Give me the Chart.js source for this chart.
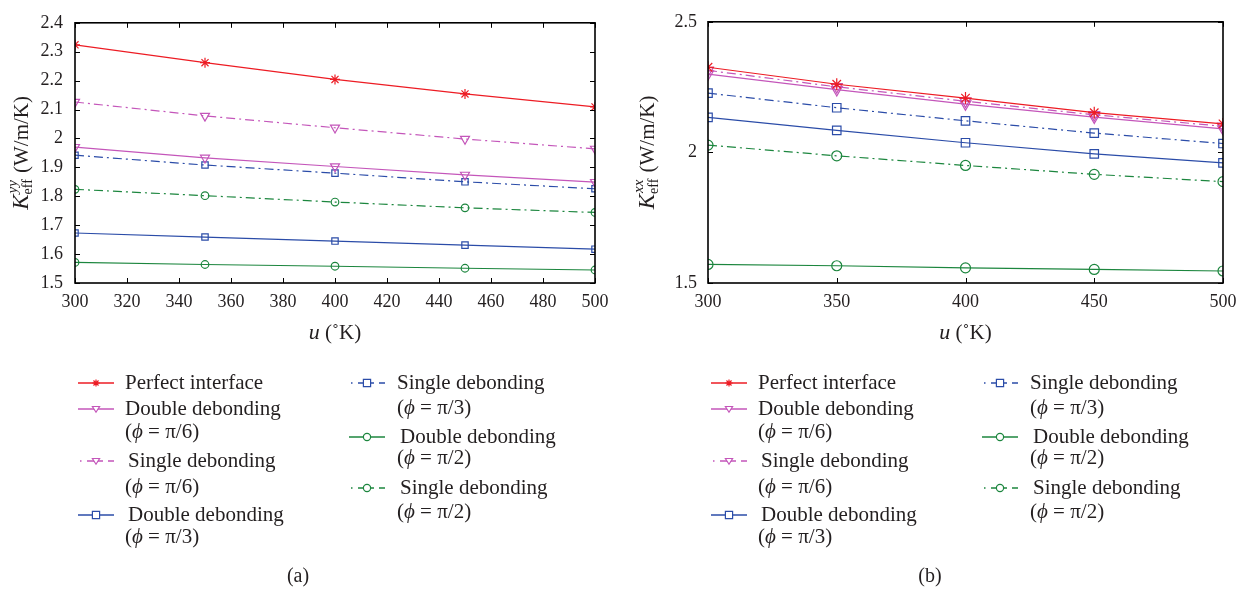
<!DOCTYPE html>
<html>
<head>
<meta charset="utf-8">
<script src="https://cdn.jsdelivr.net/npm/chart.js@4.4.0/dist/chart.umd.min.js"></script>
<style>
  body { margin: 0; background: #fff; }
  .panel { position: absolute; top: 0; }
</style>
</head>
<body>
<canvas id="chartA" class="panel" style="left:0" width="625" height="591"></canvas>
<canvas id="chartB" class="panel" style="left:625px" width="626" height="591"></canvas>
<script>
// temperatures (K)
const temps = [300, 350, 400, 450, 500];

// (a) K_eff^yy
const yyPerfect  = [2.324, 2.262, 2.204, 2.154, 2.109];
const yyDouble6  = [1.970, 1.933, 1.903, 1.874, 1.849];
const yySingle6  = [2.126, 2.078, 2.037, 1.998, 1.964];
const yyDouble3  = [1.673, 1.659, 1.645, 1.631, 1.617];
const yySingle3  = [1.942, 1.908, 1.880, 1.850, 1.826];
const yyDouble2  = [1.571, 1.564, 1.558, 1.551, 1.545];
const yySingle2  = [1.824, 1.802, 1.780, 1.760, 1.744];

// (b) K_eff^xx
const xxPerfect  = [2.326, 2.261, 2.208, 2.152, 2.109];
const xxDouble6  = [2.300, 2.240, 2.185, 2.135, 2.090];
const xxSingle6  = [2.314, 2.251, 2.196, 2.144, 2.100];
const xxDouble3  = [2.134, 2.084, 2.037, 1.994, 1.960];
const xxSingle3  = [2.227, 2.171, 2.121, 2.074, 2.034];
const xxDouble2  = [1.571, 1.566, 1.558, 1.552, 1.546];
const xxSingle2  = [2.028, 1.987, 1.950, 1.916, 1.888];

const seriesNames = [
  ['Perfect interface'],
  ['Double debonding', '(\u03d5 = \u03c0/6)'],
  ['Single debonding', '(\u03d5 = \u03c0/6)'],
  ['Double debonding', '(\u03d5 = \u03c0/3)'],
  ['Single debonding', '(\u03d5 = \u03c0/3)'],
  ['Double debonding', '(\u03d5 = \u03c0/2)'],
  ['Single debonding', '(\u03d5 = \u03c0/2)']
];

const RED = 'rgb(237,28,36)';
const PINK = 'rgb(196,86,186)';
const BLUE = 'rgb(43,76,168)';
const GREEN = 'rgb(28,134,62)';
const DASHDOT = [9, 4, 2, 4];
const FONT = '"Liberation Serif", "DejaVu Serif", serif';
const INK = '#231f20';

const styles = [
  { color: RED,   dash: [],      shape: 'star' },
  { color: PINK,  dash: [],      shape: 'triangle' },
  { color: PINK,  dash: DASHDOT, shape: 'triangle' },
  { color: BLUE,  dash: [],      shape: 'rect' },
  { color: BLUE,  dash: DASHDOT, shape: 'rect' },
  { color: GREEN, dash: [],      shape: 'circle' },
  { color: GREEN, dash: DASHDOT, shape: 'circle' }
];

// legend placement: column, first-line y, second-line y, text x offset
const legendRows = [
  { col: 0, y: 383, y2: 0,   dx: 0 },
  { col: 0, y: 409, y2: 432, dx: 0 },
  { col: 0, y: 461, y2: 487, dx: 3 },
  { col: 0, y: 515, y2: 537, dx: 3 },
  { col: 1, y: 383, y2: 408, dx: 0 },
  { col: 1, y: 437, y2: 458, dx: 3 },
  { col: 1, y: 488, y2: 512, dx: 3 }
];

function drawMarker(ctx, shape, x, y, r, color) {
  ctx.save();
  ctx.strokeStyle = color;
  ctx.fillStyle = '#fff';
  ctx.lineWidth = 1.2;
  ctx.setLineDash([]);
  ctx.beginPath();
  if (shape === 'star') {
    for (let i = 0; i < 4; i++) {
      const a = i * Math.PI / 4;
      ctx.moveTo(x - r * Math.cos(a), y - r * Math.sin(a));
      ctx.lineTo(x + r * Math.cos(a), y + r * Math.sin(a));
    }
    ctx.stroke();
  } else if (shape === 'triangle') {
    ctx.moveTo(x - r, y - r * 0.7);
    ctx.lineTo(x + r, y - r * 0.7);
    ctx.lineTo(x, y + r * 0.9);
    ctx.closePath();
    ctx.fill(); ctx.stroke();
  } else if (shape === 'rect') {
    ctx.rect(x - r, y - r, 2 * r, 2 * r);
    ctx.fill(); ctx.stroke();
  } else {
    ctx.arc(x, y, r, 0, Math.PI * 2);
    ctx.fill(); ctx.stroke();
  }
  ctx.restore();
}

// draws a legend string where "ϕ" is set in italics
function fillMixed(ctx, text, x, y, size) {
  const parts = text.split(/(\u03d5)/);
  parts.forEach(p => {
    if (!p) return;
    ctx.font = (p === '\u03d5' ? 'italic ' : '') + size + 'px ' + FONT;
    ctx.fillText(p, x, y);
    x += ctx.measureText(p).width;
  });
}

const framePlugin = {
  id: 'frame',
  afterDraw(chart, args, opts) {
    const ctx = chart.ctx;
    const ca = chart.chartArea;
    const xs = chart.scales.x, ys = chart.scales.y;
    ctx.save();
    // inward ticks
    ctx.strokeStyle = '#000';
    ctx.lineWidth = 1;
    ctx.beginPath();
    xs.ticks.forEach(t => {
      const px = Math.round(xs.getPixelForValue(t.value)) + 0.5;
      ctx.moveTo(px, ca.bottom); ctx.lineTo(px, ca.bottom - 5);
      ctx.moveTo(px, ca.top); ctx.lineTo(px, ca.top + 5);
    });
    ys.ticks.forEach(t => {
      const py = Math.round(ys.getPixelForValue(t.value)) + 0.5;
      ctx.moveTo(ca.left, py); ctx.lineTo(ca.left + 5, py);
      ctx.moveTo(ca.right, py); ctx.lineTo(ca.right - 5, py);
    });
    ctx.stroke();
    // box
    ctx.lineWidth = 1.6;
    ctx.strokeRect(ca.left, ca.top, ca.right - ca.left, ca.bottom - ca.top);

    // y title
    ctx.fillStyle = INK;
    ctx.textBaseline = 'alphabetic';
    const italic = 'italic 23px ' + FONT;
    const big = '21px ' + FONT;
    const sub = '14px ' + FONT;
    const sup = 'italic 15px ' + FONT;
    ctx.font = italic; const wK = ctx.measureText('K').width;
    ctx.font = sub; const wSub = ctx.measureText('eff').width;
    ctx.font = sup; const wSup = ctx.measureText(opts.sup).width;
    ctx.font = big; const wRest = ctx.measureText(' (W/m/K)').width;
    const wIdx = Math.max(wSub, wSup) + 1;
    const total = wK + wIdx + wRest;
    ctx.translate(opts.titleX, (ca.top + ca.bottom) / 2);
    ctx.rotate(-Math.PI / 2);
    let x = -total / 2;
    const base = 8;
    ctx.font = italic; ctx.fillText('K', x, base); x += wK;
    ctx.font = sub; ctx.fillText('eff', x, base + 4);
    ctx.font = sup; ctx.fillText(opts.sup, x + 1, base - 11);
    x += wIdx;
    ctx.font = big; ctx.fillText(' (W/m/K)', x, base);
    ctx.setTransform(1, 0, 0, 1, 0, 0);

    // x title
    const cx = (ca.left + ca.right) / 2;
    ctx.font = 'italic 22px ' + FONT; const wu = ctx.measureText('u').width;
    ctx.font = '21px ' + FONT; const wr = ctx.measureText(' (\u02daK)').width;
    let xx = cx - (wu + wr) / 2;
    ctx.textBaseline = 'middle';
    ctx.font = 'italic 22px ' + FONT; ctx.fillText('u', xx, 333);
    ctx.font = '21px ' + FONT; ctx.fillText(' (\u02daK)', xx + wu, 333);

    // legend
    legendRows.forEach((row, i) => {
      const st = styles[i];
      const x0 = ca.left + (row.col === 0 ? 3 : 274);
      const tx = ca.left + (row.col === 0 ? 50 : 322);
      ctx.strokeStyle = st.color;
      ctx.lineWidth = 1.3;
      ctx.beginPath();
      if (st.dash.length) {
        ctx.moveTo(x0 + 2, row.y); ctx.lineTo(x0 + 3.5, row.y);
        ctx.moveTo(x0 + 9, row.y); ctx.lineTo(x0 + 25, row.y);
        ctx.moveTo(x0 + 30, row.y); ctx.lineTo(x0 + 36, row.y);
      } else {
        ctx.moveTo(x0, row.y); ctx.lineTo(x0 + 36, row.y);
      }
      ctx.stroke();
      drawMarker(ctx, st.shape, x0 + 18, row.y, 3.6, st.color);
      ctx.fillStyle = INK;
      const names = seriesNames[i];
      fillMixed(ctx, names[0], tx + row.dx, row.y, 21);
      if (names[1]) fillMixed(ctx, names[1], tx, row.y2, 21);
    });

    // panel label
    ctx.textAlign = 'center';
    ctx.font = '20px ' + FONT;
    ctx.fillText(opts.label, opts.labelX, 577);
    ctx.restore();
  }
};

function makeChart(id, values, cfg) {
  const radius = { star: cfg.star, rect: cfg.rect, triangle: cfg.tri, circle: cfg.r };
  const datasets = values.map((vals, i) => {
    const st = styles[i];
    return {
      label: seriesNames[i].join(' '),
      data: temps.map((t, j) => ({ x: t, y: vals[j] })),
      borderColor: st.color,
      borderWidth: 1.2,
      borderDash: st.dash,
      backgroundColor: 'rgba(255,255,255,0)',
      pointStyle: st.shape,
      rotation: st.shape === 'triangle' ? 180 : 0,
      pointRadius: radius[st.shape],
      pointBorderColor: st.color,
      pointBackgroundColor: 'rgba(255,255,255,0)',
      pointBorderWidth: 1.2,
      tension: 0
    };
  });
  return new Chart(document.getElementById(id), {
    type: 'line',
    data: { datasets },
    plugins: [framePlugin],
    options: {
      responsive: false,
      animation: false,
      events: [],
      layout: { padding: { top: 15, right: cfg.padRight, bottom: 248, left: 0 } },
      plugins: {
        legend: { display: false },
        tooltip: { enabled: false },
        frame: { sup: cfg.sup, titleX: cfg.titleX, label: cfg.label, labelX: cfg.labelX }
      },
      scales: {
        x: {
          type: 'linear', min: 300, max: 500,
          ticks: { stepSize: cfg.xStep, padding: 8, color: INK, font: { family: FONT, size: 18 } },
          grid: { display: false, drawTicks: false },
          border: { display: false },
          afterFit: s => { s.height = 60; }
        },
        y: {
          min: 1.5, max: cfg.yMax,
          ticks: {
            stepSize: cfg.yStep, padding: cfg.yPad, color: INK,
            font: { family: FONT, size: 18 },
            callback: v => String(+Number(v).toFixed(1))
          },
          grid: { display: false, drawTicks: false },
          border: { display: false },
          afterFit: s => { s.width = cfg.yWidth; }
        }
      }
    }
  });
}

makeChart('chartA',
  [yyPerfect, yyDouble6, yySingle6, yyDouble3, yySingle3, yyDouble2, yySingle2],
  { sup: 'yy', titleX: 20, label: '(a)', labelX: 298, padRight: 30, yWidth: 75,
    yMax: 2.4, yStep: 0.1, xStep: 20, yPad: 12, r: 3.8, rect: 4.5, star: 5, tri: 5.2 });

makeChart('chartB',
  [xxPerfect, xxDouble6, xxSingle6, xxDouble3, xxSingle3, xxDouble2, xxSingle2],
  { sup: 'xx', titleX: 21, label: '(b)', labelX: 305, padRight: 28, yWidth: 83,
    yMax: 2.5, yStep: 0.5, xStep: 50, yPad: 11, r: 5, rect: 6, star: 6, tri: 6.3 });
</script>
</body>
</html>
